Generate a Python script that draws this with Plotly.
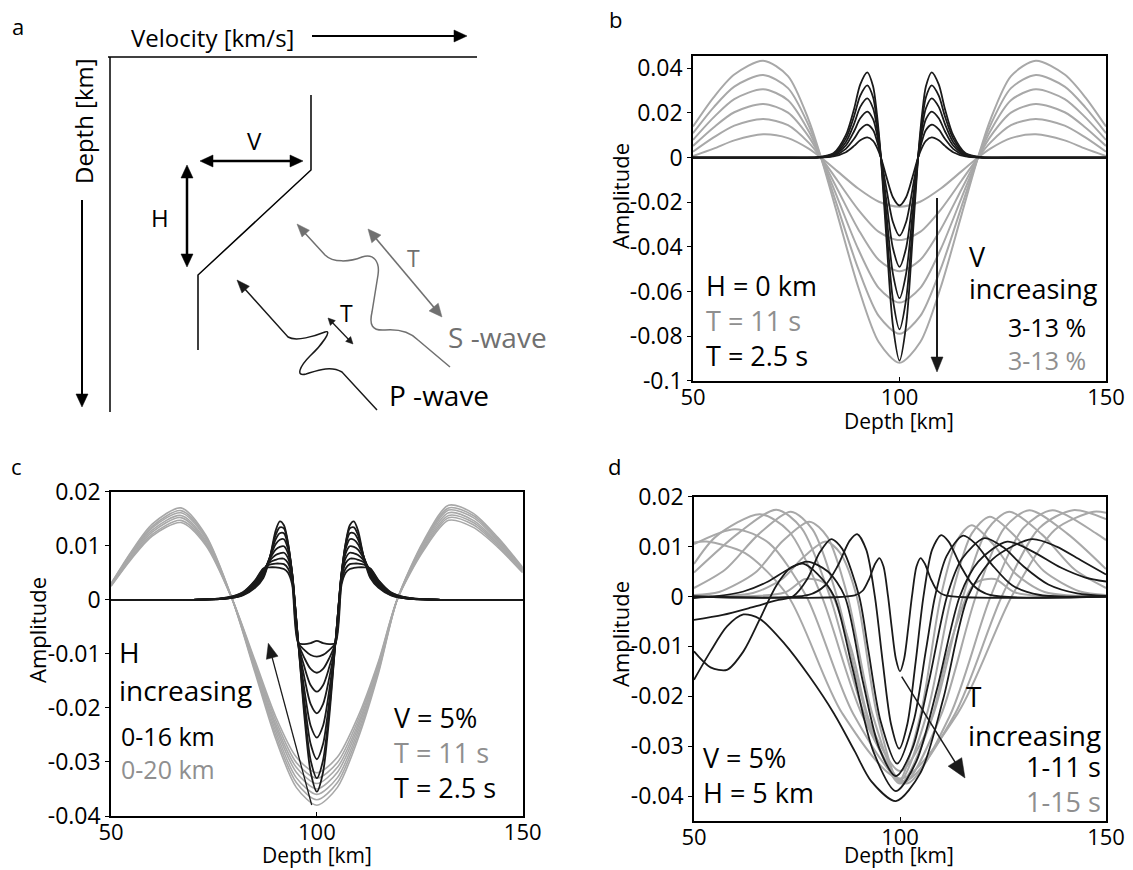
import math
import plotly.graph_objects as go

W, H = 1133, 870
FONT = "Open Sans"
BLACK = "#1a1a1a"
GRAY = "#a8a8a8"
GRAY_TXT = "#8f8f8f"
ARROW_GRAY = "#707070"

# ---------------- Panel b : V increasing 3-13 %, H = 0 km ----------------
B_X_P = [50, 70, 80, 84, 87, 89, 90.5, 92.2, 93.6, 94.5, 95.5, 96.8, 98.4, 100,
         101.6, 103.2, 104.5, 105.5, 106.4, 107.8, 109.5, 111, 113, 116, 120, 130, 150]
B_P_HALF = [
    [0, 0, 0, 0.0005, 0.0024, 0.0052, 0.0077, 0.0090, 0.0075, 0.0047, 0, -0.0084, -0.0178, -0.0215],
    [0, 0, 0, 0.0007, 0.0039, 0.0084, 0.0126, 0.0147, 0.0123, 0.0077, 0, -0.0136, -0.0289, -0.0350],
    [0, 0, 0, 0.0010, 0.0054, 0.0118, 0.0176, 0.0206, 0.0172, 0.0108, 0, -0.0191, -0.0405, -0.0490],
    [0, 0, 0.0001, 0.0013, 0.0069, 0.0151, 0.0227, 0.0265, 0.0221, 0.0139, 0, -0.0245, -0.0520, -0.0630],
    [0, 0, 0.0001, 0.0016, 0.0085, 0.0185, 0.0277, 0.0323, 0.0270, 0.0169, 0, -0.0300, -0.0636, -0.0770],
    [0, 0, 0.0001, 0.0019, 0.0100, 0.0218, 0.0328, 0.0382, 0.0319, 0.0200, 0, -0.0354, -0.0752, -0.0910],
]
B_X_S = [50, 55, 60, 67, 73, 78, 81, 85, 90, 95, 100,
         105, 110, 115, 119, 122, 127, 133, 140, 145, 150]
B_S_HALF = [
    [0.0007, 0.0040, 0.0077, 0.0104, 0.0087, 0.0040, 0, -0.0062, -0.0139, -0.0198, -0.0220],
    [0.0026, 0.0090, 0.0143, 0.0173, 0.0145, 0.0067, 0, -0.0104, -0.0233, -0.0333, -0.0370],
    [0.0052, 0.0135, 0.0203, 0.0240, 0.0201, 0.0094, 0, -0.0143, -0.0321, -0.0459, -0.0510],
    [0.0079, 0.0180, 0.0262, 0.0306, 0.0257, 0.0119, 0, -0.0182, -0.0410, -0.0585, -0.0650],
    [0.0109, 0.0225, 0.0318, 0.0370, 0.0311, 0.0144, 0, -0.0221, -0.0498, -0.0711, -0.0790],
    [0.0139, 0.0270, 0.0372, 0.0434, 0.0365, 0.0169, 0, -0.0258, -0.0580, -0.0828, -0.0920],
]

# ---------------- Panel c : H increasing, V = 5 % ----------------
C_X_P = [50, 70, 78, 82, 85, 87, 88.5, 90, 91, 92, 93, 94, 95.5, 97, 98.5, 100,
         101.5, 103, 104.5, 106, 107, 108, 109, 110, 111.5, 113, 115, 118, 122, 130, 150]
C_P_HALF = [
    [0, 0, 0.0002, 0.0008, 0.0022, 0.0040, 0.0075, 0.0128, 0.0145, 0.0138, 0.0105, 0.0045, -0.008, -0.0218, -0.0319, -0.0355],
    [0, 0, 0.0002, 0.0009, 0.0024, 0.0043, 0.0076, 0.0120, 0.0134, 0.0132, 0.0104, 0.0048, -0.008, -0.0205, -0.0297, -0.0330],
    [0, 0, 0.0002, 0.0009, 0.0026, 0.0046, 0.0077, 0.0112, 0.0123, 0.0123, 0.0100, 0.0050, -0.008, -0.0188, -0.0267, -0.0295],
    [0, 0, 0.0003, 0.0010, 0.0028, 0.0049, 0.0077, 0.0103, 0.0111, 0.0112, 0.0094, 0.0050, -0.008, -0.0168, -0.0233, -0.0255],
    [0, 0, 0.0003, 0.0011, 0.0030, 0.0051, 0.0075, 0.0093, 0.0098, 0.0099, 0.0086, 0.0048, -0.008, -0.0145, -0.0193, -0.0210],
    [0, 0, 0.0003, 0.0012, 0.0032, 0.0053, 0.0072, 0.0083, 0.0086, 0.0087, 0.0077, 0.0044, -0.008, -0.0125, -0.0158, -0.0170],
    [0, 0, 0.0003, 0.0012, 0.0033, 0.0055, 0.0069, 0.0074, 0.0076, 0.0076, 0.0068, 0.0040, -0.008, -0.0108, -0.0128, -0.0135],
    [0, 0, 0.0004, 0.0013, 0.0035, 0.0057, 0.0065, 0.0067, 0.0067, 0.0066, 0.0058, 0.0034, -0.008, -0.0093, -0.0102, -0.0105],
    [0, 0, 0.0004, 0.0014, 0.0036, 0.0058, 0.0060, 0.0060, 0.0059, 0.0057, 0.0050, 0.0028, -0.008, -0.0082, -0.0080, -0.0076],
]
C_X_S = [50, 55, 60, 67, 73, 79.5, 85, 90, 95, 100, 105, 110, 115, 119.5, 126, 132, 138, 144, 150]
C_S = [
    [0.0030, 0.0090, 0.0140, 0.0170, 0.0120, 0.0000, -0.0135, -0.0257, -0.0347, -0.0380, -0.0347, -0.0257, -0.0135, 0.0000, 0.0110, 0.0175, 0.0160, 0.0115, 0.0060],
    [0.0029, 0.0088, 0.0136, 0.0165, 0.0117, 0.0000, -0.0131, -0.0250, -0.0338, -0.0370, -0.0338, -0.0250, -0.0131, 0.0000, 0.0107, 0.0170, 0.0156, 0.0112, 0.0058],
    [0.0028, 0.0085, 0.0133, 0.0161, 0.0114, 0.0000, -0.0128, -0.0243, -0.0329, -0.0360, -0.0329, -0.0243, -0.0128, 0.0000, 0.0104, 0.0166, 0.0152, 0.0109, 0.0057],
    [0.0028, 0.0083, 0.0129, 0.0156, 0.0110, 0.0000, -0.0124, -0.0236, -0.0319, -0.0350, -0.0319, -0.0236, -0.0124, 0.0000, 0.0101, 0.0161, 0.0147, 0.0106, 0.0055],
    [0.0027, 0.0080, 0.0125, 0.0152, 0.0107, 0.0000, -0.0121, -0.0230, -0.0310, -0.0340, -0.0310, -0.0230, -0.0121, 0.0000, 0.0098, 0.0156, 0.0143, 0.0103, 0.0054],
    [0.0026, 0.0078, 0.0121, 0.0147, 0.0104, 0.0000, -0.0117, -0.0223, -0.0301, -0.0330, -0.0301, -0.0223, -0.0117, 0.0000, 0.0095, 0.0152, 0.0139, 0.0100, 0.0052],
    [0.0025, 0.0076, 0.0118, 0.0143, 0.0101, 0.0000, -0.0113, -0.0216, -0.0291, -0.0320, -0.0291, -0.0216, -0.0113, 0.0000, 0.0092, 0.0147, 0.0134, 0.0097, 0.0050],
]

# ---------------- Panel d : T increasing, V = 5 %, H = 5 km ----------------
D_P_X = [
    [50, 89, 91, 92.5, 94, 95, 96, 97.1, 98, 99, 100, 101, 102, 102.9, 104, 105, 106, 107.5, 109, 111, 150],
    [50, 77.8, 81.8, 84.8, 87.8, 89.6, 91.8, 93.9, 95.8, 97.8, 99.8, 101.8, 103.8, 105.7, 107.8, 110, 111.8, 114.8, 117.8, 121.8, 150],
    [50, 57, 64, 70, 74, 77.5, 80.5, 83.3, 86, 90.1, 92.3, 95.3, 99.3, 103.3, 106.3, 108.5, 111.3, 115.3, 118.3, 122.3, 127.3, 134, 150],
    [50, 55, 62, 68, 73, 77.5, 82.5, 86.6, 91, 95, 99, 103, 107, 111.4, 115, 120.5, 125, 130, 136, 143, 150],
    [50, 54, 58, 62, 66, 70, 73.5, 76.5, 80, 84, 88.5, 93.5, 99, 104, 109, 114.5, 119, 126, 132, 139, 145, 150],
    [50, 54, 58, 62, 66, 72, 78, 84, 89, 93, 99, 105, 110.5, 116.5, 122.5, 132, 138, 144, 150],
]
D_P_Y = [
    [0, 0.0002, 0.0012, 0.0035, 0.0066, 0.0077, 0.006, 0, -0.0063, -0.0125, -0.015, -0.0125, -0.0063, 0, 0.006, 0.0077, 0.0066, 0.0035, 0.0012, 0.0002, 0],
    [0, 0.0003, 0.0022, 0.006, 0.0112, 0.0125, 0.0094, 0, -0.0131, -0.0255, -0.0305, -0.0255, -0.0131, 0, 0.0094, 0.0123, 0.011, 0.006, 0.0022, 0.0003, 0],
    [-0.0047, -0.0037, -0.0022, -0.0008, 0.0, 0.0035, 0.0088, 0.0115, 0.0095, 0.0, -0.0107, -0.025, -0.0335, -0.025, -0.0107, 0.0, 0.0081, 0.0122, 0.0106, 0.0064, 0.0022, 0.0003, 0],
    [-0.0003, 0.0, 0.001, 0.003, 0.0055, 0.007, 0.005, 0.0, -0.0171, -0.0305, -0.036, -0.0305, -0.0171, 0.0, 0.0075, 0.0117, 0.0099, 0.006, 0.0024, 0.0006, 0.0001],
    [-0.011, -0.0142, -0.0147, -0.011, -0.0045, 0.0022, 0.0058, 0.0066, 0.0045, 0.0, -0.0145, -0.031, -0.039, -0.033, -0.0185, 0.0, 0.007, 0.011, 0.0091, 0.0058, 0.0038, 0.003],
    [-0.0167, -0.011, -0.006, -0.0036, -0.0045, -0.0095, -0.016, -0.0235, -0.031, -0.037, -0.041, -0.0353, -0.0205, 0.0, 0.0075, 0.0115, 0.010, 0.0072, 0.0044],
]
D_S_X = [
    [50, 72, 77, 82, 88, 93, 100, 107, 112, 118, 123, 128, 150],
    [50, 64.3, 71.4, 76.7, 82, 85.5, 89.5, 94.4, 99.7, 105, 109.9, 113.9, 117.4, 122.7, 128, 135.1, 150],
    [50, 56.1, 64.9, 71.4, 78, 82.4, 87.3, 93.3, 99.9, 106.5, 112.5, 117.4, 121.8, 128.4, 134.9, 143.7, 150],
    [50, 57.6, 65.6, 73.5, 78.8, 84.7, 92, 100, 108, 115.3, 121.2, 126.5, 134.5, 142.4, 150],
    [50, 60.8, 70, 76.1, 83, 91.5, 100.7, 109.9, 118.4, 125.3, 131.4, 140.6, 150],
    [50, 55.3, 66, 73.1, 81, 90.9, 101.5, 112.1, 122, 129.9, 137, 147.7, 150],
    [50, 60, 68.2, 77.3, 88.7, 101, 113.3, 124.7, 133.8, 142, 150],
    [50, 53, 62.4, 72.9, 85.9, 100, 114.1, 127.1, 137.6, 147, 150],
]
D_S_Y = [
    [0, 0.0008, 0.0035, 0.0025, -0.01, -0.026, -0.035, -0.026, -0.01, 0.0025, 0.0035, 0.0008, 0],
    [0, 0.0007, 0.0035, 0.008, 0.011, 0.0087, 0, -0.0236, -0.037, -0.0236, 0, 0.0113, 0.0143, 0.0104, 0.0046, 0.0009, 0],
    [0.0003, 0.0009, 0.0048, 0.011, 0.015, 0.0119, 0, -0.0236, -0.037, -0.0236, 0, 0.0126, 0.016, 0.0117, 0.0051, 0.001, 0.0003],
    [0.0017, 0.0054, 0.0124, 0.017, 0.0134, 0, -0.0239, -0.0375, -0.0239, 0, 0.0134, 0.017, 0.0124, 0.0054, 0.0017],
    [0.0048, 0.0127, 0.0174, 0.0137, 0, -0.0239, -0.0375, -0.0239, 0, 0.0137, 0.0173, 0.0126, 0.0055],
    [0.0065, 0.012, 0.0165, 0.013, 0, -0.0239, -0.0375, -0.0239, 0, 0.0137, 0.0173, 0.0126, 0.0113],
    [0.0105, 0.0135, 0.0107, 0, -0.0236, -0.037, -0.0236, 0, 0.0137, 0.0173, 0.0155],
    [0.0108, 0.011, 0.0087, 0, -0.0233, -0.0365, -0.0233, 0, 0.0134, 0.017, 0.0168],
]

X_TICKS = [50, 100, 150]
B_Y_TICKS = [0.04, 0.02, 0, -0.02, -0.04, -0.06, -0.08, -0.1]
CD_Y_TICKS = [0.02, 0.01, 0, -0.01, -0.02, -0.03, -0.04]


def mirror(half):
    return half + half[-2::-1]


fig = go.Figure()


def add_line(x, y, color, xa, ya, width):
    fig.add_trace(go.Scatter(x=x, y=y, mode="lines", xaxis=xa, yaxis=ya,
                             line=dict(color=color, width=width, shape="spline", smoothing=0.8),
                             hoverinfo="skip", showlegend=False))


for ys in B_S_HALF:
    add_line(B_X_S, mirror(ys), GRAY, "x", "y", 2)
for ys in B_P_HALF:
    add_line(B_X_P, mirror(ys), BLACK, "x", "y", 1.8)
for ys in C_S:
    add_line(C_X_S, ys, GRAY, "x2", "y2", 1.6)
for ys in C_P_HALF:
    add_line(C_X_P, mirror(ys), BLACK, "x2", "y2", 1.8)
for xs, ys in zip(D_S_X, D_S_Y):
    add_line(xs, ys, GRAY, "x3", "y3", 2)
for xs, ys in zip(D_P_X, D_P_Y):
    add_line(xs, ys, BLACK, "x3", "y3", 1.8)


def fmt(v):
    return "%g" % v


def xax(dom):
    return dict(domain=dom, range=[50, 150], tickvals=X_TICKS, ticktext=[fmt(v) for v in X_TICKS],
                showgrid=False, zeroline=False, showline=True, mirror=True, linecolor="black",
                linewidth=1.5, ticks="inside", ticklen=4, tickcolor="black", automargin=False,
                ticklabelstandoff=-4,
                tickfont=dict(family=FONT, size=22, color="black"), fixedrange=True)


def yax(dom, rng, ticks):
    return dict(domain=dom, range=rng, tickvals=ticks, ticktext=[fmt(v) for v in ticks],
                showgrid=False, zeroline=False, showline=True, mirror=True, linecolor="black",
                linewidth=1.5, ticks="outside", ticklen=4, tickcolor="black", automargin=False,
                tickfont=dict(family=FONT, size=23, color="black"), fixedrange=True)


def fx(px):
    return px / W


def fy(py):
    return 1 - py / H


fig.update_layout(
    template="none",
    width=W, height=H, autosize=False, margin=dict(l=0, r=0, t=0, b=0, pad=0),
    paper_bgcolor="white", plot_bgcolor="rgba(0,0,0,0)",
    xaxis=dict(xax([fx(693), fx(1106)]), anchor="y"),
    yaxis=dict(yax([fy(380.7), fy(56)], [-0.1, 0.0455], B_Y_TICKS), anchor="x"),
    xaxis2=dict(xax([fx(111), fx(522.7)]), anchor="y2"),
    yaxis2=dict(yax([fy(816), fy(491.7)], [-0.04, 0.02], CD_Y_TICKS), anchor="x2"),
    xaxis3=dict(xax([fx(694), fx(1106)]), anchor="y3"),
    yaxis3=dict(yax([fy(821), fy(496.7)], [-0.045, 0.02], CD_Y_TICKS), anchor="x3"),
)

shapes = []
annos = []


def seg(x0, y0, x1, y1, color, w):
    shapes.append(dict(type="line", xref="paper", yref="paper", x0=fx(x0), y0=fy(y0),
                       x1=fx(x1), y1=fy(y1), line=dict(color=color, width=w)))


def head(tx, ty, ux, uy, hl, hw, color):
    bx, by = tx - ux * hl, ty - uy * hl
    px_, py_ = -uy, ux
    p1 = (bx + px_ * hw / 2, by + py_ * hw / 2)
    p2 = (bx - px_ * hw / 2, by - py_ * hw / 2)
    path = "M %f %f L %f %f L %f %f Z" % (fx(tx), fy(ty), fx(p1[0]), fy(p1[1]), fx(p2[0]), fy(p2[1]))
    shapes.append(dict(type="path", xref="paper", yref="paper", path=path,
                       fillcolor=color, line=dict(color=color, width=0.5)))


def arrow(x0, y0, x1, y1, color, w, hl, hw, both=False):
    L = math.hypot(x1 - x0, y1 - y0)
    ux, uy = (x1 - x0) / L, (y1 - y0) / L
    sx, sy = (x0 + ux * hl * 0.7, y0 + uy * hl * 0.7) if both else (x0, y0)
    ex, ey = x1 - ux * hl * 0.7, y1 - uy * hl * 0.7
    seg(sx, sy, ex, ey, color, w)
    head(x1, y1, ux, uy, hl, hw, color)
    if both:
        head(x0, y0, -ux, -uy, hl, hw, color)


def pathpx(cmds, color, w):
    parts = []
    for c, pts in cmds:
        s = c
        for (x, y) in pts:
            s += " %f %f" % (fx(x), fy(y))
        parts.append(s)
    shapes.append(dict(type="path", xref="paper", yref="paper", path=" ".join(parts),
                       line=dict(color=color, width=w)))


def txt(x, y, s, size, color="black", xanchor="left", angle=0, align="left"):
    annos.append(dict(x=fx(x), y=fy(y), xref="paper", yref="paper", text=s, showarrow=False,
                      xanchor=xanchor, yanchor="middle", textangle=angle, align=align,
                      font=dict(family=FONT, size=size, color=color)))


def grey(s):
    return "<span style='color:%s'>%s</span>" % (GRAY_TXT, s)


# ---------------- Panel a (schematic) ----------------
txt(10, 26, "a", 22)
txt(129, 37, "Velocity [km/s]", 24)
arrow(312, 36, 467, 36, "black", 2, 13, 12)
seg(108, 57, 477, 57, "black", 1.5)
seg(110, 57, 110, 412, "black", 1.5)
txt(83, 121, "Depth [km]", 24, angle=-90, xanchor="center")
arrow(82, 200, 82, 407, "black", 2, 13, 12)
# velocity profile
pathpx([("M", [(311, 95)]), ("L", [(311, 170)]), ("L", [(198, 275)]), ("L", [(198, 350)])], "black", 1.5)
arrow(200, 161, 303, 161, "black", 2.5, 13, 12, both=True)
txt(254, 140, "V", 24, xanchor="center")
arrow(187, 165, 187, 267, "black", 2.5, 13, 12, both=True)
txt(160, 218, "H", 24, xanchor="center")
# P-wave
pathpx([("M", [(244, 288)]), ("L", [(288, 337)]),
        ("C", [(296, 342), (315, 336), (325, 332)]),
        ("C", [(333, 329), (322, 345), (310, 356)]),
        ("C", [(300, 366), (295, 377), (306, 374)]),
        ("C", [(316, 371), (330, 365), (342, 372)]),
        ("L", [(377, 410)])], BLACK, 1.5)
head(237, 280, -51 / 76.5, -57 / 76.5, 13, 10, BLACK)
arrow(328, 318, 353, 344, BLACK, 1.3, 7, 7, both=True)
txt(346, 313, "T", 23, xanchor="center")
txt(387, 395, "P -wave", 28)
# S-wave
pathpx([("M", [(303, 231)]), ("L", [(325, 255)]),
        ("C", [(333, 263), (350, 262), (362, 257)]),
        ("C", [(374, 253), (380, 262), (378, 275)]),
        ("L", [(372, 312)]),
        ("C", [(369, 325), (372, 331), (385, 330)]),
        ("C", [(398, 329), (410, 332), (418, 340)]),
        ("L", [(450, 367)])], ARROW_GRAY, 1.5)
head(297, 224, -28 / 41.8, -31 / 41.8, 13, 10, ARROW_GRAY)
arrow(368, 229, 442, 317, ARROW_GRAY, 1.6, 13, 12, both=True)
txt(413, 258, "T", 23, color=ARROW_GRAY, xanchor="center")
txt(446, 337, "S -wave", 28, color=ARROW_GRAY)

# ---------------- Panel b annotations ----------------
txt(607, 19, "b", 22)
txt(620, 196, "Amplitude", 22, angle=-90, xanchor="center")
txt(899, 421, "Depth [km]", 21, xanchor="center")
txt(704, 321, "H = 0 km<br>" + grey("T = 11 s") + "<br>T = 2.5 s", 27)
txt(967, 257, "V", 27)
txt(967, 289, "increasing", 27)
txt(1088, 343, "3-13 %<br>" + grey("3-13 %"), 25, xanchor="right", align="right")
arrow(937, 198, 937, 372, BLACK, 2, 15, 12)

# ---------------- Panel c annotations ----------------
txt(9, 466, "c", 22)
txt(37, 630, "Amplitude", 22, angle=-90, xanchor="center")
txt(317, 855, "Depth [km]", 21, xanchor="center")
txt(117, 652, "H", 28)
txt(117, 690, "increasing", 28)
txt(119, 752, "0-16 km<br>" + grey("0-20 km"), 25)
txt(392, 752, "V = 5%<br>" + grey("T = 11 s") + "<br>T = 2.5 s", 27)
arrow(311.7, 805, 268.3, 643.3, BLACK, 1.3, 15, 12)

# ---------------- Panel d annotations ----------------
txt(606, 466, "d", 22)
txt(620, 634, "Amplitude", 22, angle=-90, xanchor="center")
txt(899, 855, "Depth [km]", 21, xanchor="center")
txt(701, 775, "V = 5%<br>H = 5 km", 27)
txt(964, 696, "T", 28)
txt(966, 735, "increasing", 28)
txt(1103, 784, "1-11 s<br>" + grey("1-15 s"), 27, xanchor="right", align="right")
arrow(901.7, 676.7, 965, 778, BLACK, 1.5, 19, 16)

fig.update_layout(shapes=shapes, annotations=annos)

fig.write_html("out.html", config={"displayModeBar": False},
               post_script="document.body.style.margin='0';document.body.style.overflow='hidden';")
